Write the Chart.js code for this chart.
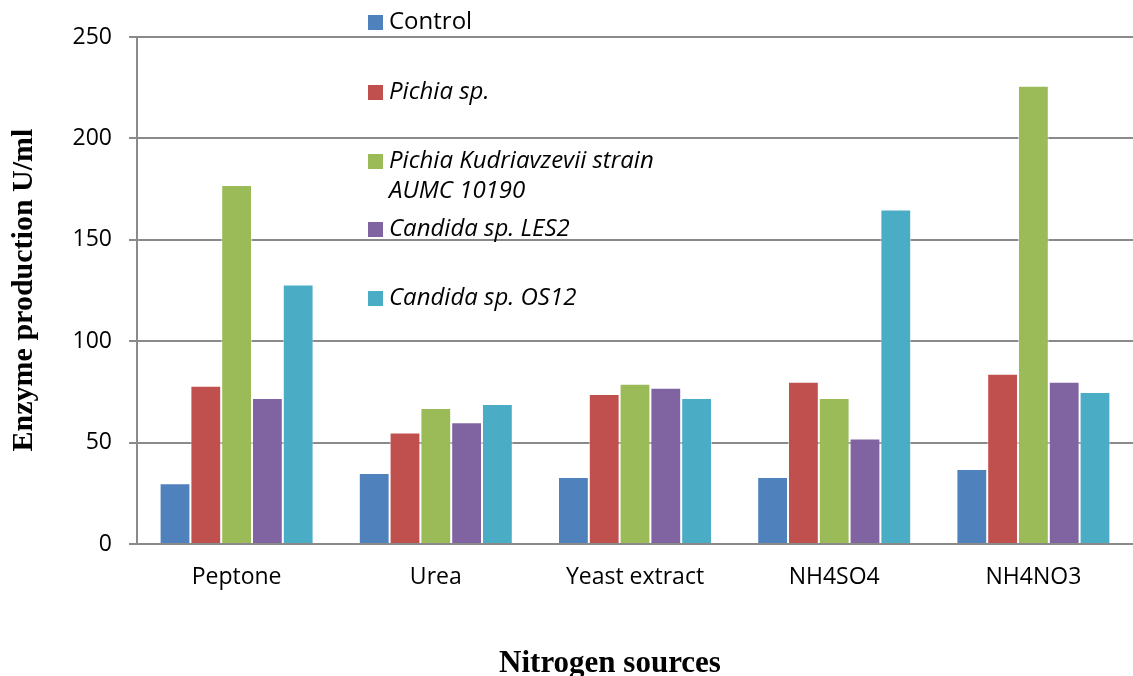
<!DOCTYPE html>
<html>
<head>
<meta charset="utf-8">
<script src="https://cdn.jsdelivr.net/npm/chart.js@4/dist/chart.umd.min.js"></script>
<style>
  html, body { margin: 0; padding: 0; background: #ffffff; }
  #wrap { width: 1133px; height: 676px; position: relative; }
</style>
</head>
<body>
<div id="wrap"><canvas id="chart" width="1133" height="676"></canvas></div>
<script>
// Nitrogen sources tested
const categories = ["Peptone", "Urea", "Yeast extract", "NH4SO4", "NH4NO3"];

// Enzyme production (U/ml) per strain
const controlValues    = [30, 35, 33, 33, 37];
const pichiaValues     = [78, 55, 74, 80, 84];
const kudriavValues    = [177, 67, 79, 72, 226];
const candidaLesValues = [72, 60, 77, 52, 80];
const candidaOsValues  = [128, 69, 72, 165, 75];

const seriesNames = [
  "Control",
  "Pichia sp.",
  "Pichia Kudriavzevii strain AUMC 10190",
  "Candida sp. LES2",
  "Candida sp. OS12"
];

const yTicks = [0, 50, 100, 150, 200, 250];

const colors = ["#4f81bd", "#c0504d", "#9bbb59", "#8064a2", "#4bacc6"];
const seriesValues = [controlValues, pichiaValues, kudriavValues, candidaLesValues, candidaOsValues];

const uiFont = "'Open Sans', 'DejaVu Sans', sans-serif";
const serifFont = "'Liberation Serif', 'DejaVu Serif', serif";

// Legend drawn inside the plot area, plus the two axis titles
const legendPlugin = {
  id: 'insideLegend',
  afterDraw(chart) {
    const ctx = chart.ctx;
    const x0 = 368;
    const rows = [22, 92, 161, 229, 298];
    ctx.save();
    ctx.textBaseline = 'middle';
    ctx.textAlign = 'left';
    chart.data.datasets.forEach((ds, i) => {
      const y = rows[i];
      ctx.fillStyle = ds.backgroundColor;
      ctx.fillRect(x0, y - 7, 15, 15);
      ctx.fillStyle = '#000000';
      ctx.font = (i === 0 ? '' : 'italic ') + '24px ' + uiFont;
      if (i === 2) {
        ctx.fillText('Pichia Kudriavzevii strain', x0 + 21, y);
        ctx.fillText('AUMC 10190', x0 + 21, y + 30);
      } else {
        ctx.fillText(ds.label, x0 + 21, y);
      }
    });
    ctx.fillStyle = '#000000';
    ctx.font = 'bold 31px ' + serifFont;
    ctx.textAlign = 'center';
    ctx.textBaseline = 'alphabetic';
    ctx.fillText('Nitrogen sources', 610, 672);
    ctx.translate(32, 290);
    ctx.rotate(-Math.PI / 2);
    ctx.font = 'bold 30px ' + serifFont;
    ctx.fillText('Enzyme production U/ml', 0, 0);
    ctx.restore();
  }
};

new Chart(document.getElementById('chart'), {
  type: 'bar',
  data: {
    labels: categories,
    datasets: seriesValues.map((vals, i) => ({
      label: seriesNames[i],
      data: vals,
      backgroundColor: colors[i],
      borderColor: 'rgba(255,255,255,0.55)',
      borderWidth: 1,
      borderSkipped: 'bottom',
      categoryPercentage: 0.773,
      barPercentage: 1.0
    }))
  },
  options: {
    responsive: false,
    animation: false,
    layout: { padding: { top: 37, right: 0, left: 0, bottom: 0 } },
    plugins: {
      legend: { display: false },
      tooltip: { enabled: false }
    },
    scales: {
      x: {
        grid: { display: false, drawTicks: false },
        border: { display: true, color: '#8a8a8a', width: 2 },
        ticks: {
          color: '#000000',
          font: { family: uiFont, size: 23 },
          padding: 20
        },
        afterFit(scale) { scale.height = 132; }
      },
      y: {
        min: 0,
        max: 250,
        afterBuildTicks(scale) { scale.ticks = yTicks.map(v => ({ value: v })); },
        grid: {
          color: '#8a8a8a',
          lineWidth: 2,
          tickLength: 8,
          drawTicks: true
        },
        border: { display: true, color: '#8a8a8a', width: 2 },
        ticks: {
          color: '#000000',
          font: { family: uiFont, size: 23 },
          padding: 17
        },
        afterFit(scale) { scale.width = 137; }
      }
    }
  },
  plugins: [legendPlugin]
});
</script>
</body>
</html>
